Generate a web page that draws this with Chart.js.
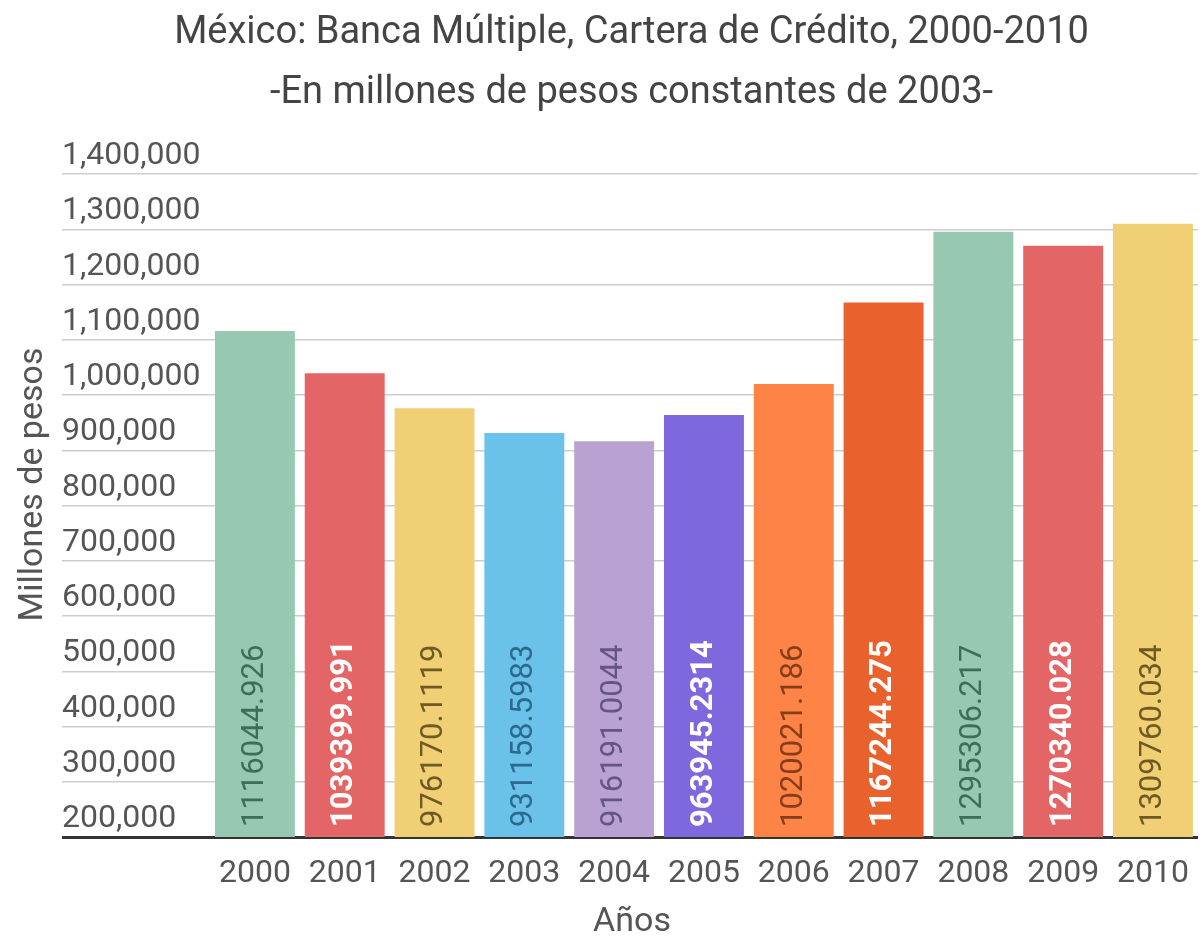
<!DOCTYPE html>
<html lang="es">
<head>
  <meta charset="UTF-8" />
  <title>Banca Múltiple, Cartera de Crédito</title>
  <script src="https://cdn.jsdelivr.net/npm/chart.js"></script>
  <style>
    body {
      margin: 0;
      padding: 0;
      background-color: #ffffff;
    }

    #chartContainer {
      width: 1202px;
      height: 938px;
    }
  </style>
</head>
<body>

  <div id="chartContainer">
    <canvas id="carteraChart"></canvas>
  </div>

  <script>
    // años y saldo de cartera (millones de pesos de 2003)
    const years = ['2000', '2001', '2002', '2003', '2004', '2005', '2006', '2007', '2008', '2009', '2010'];
    const cartera = [1116044.926, 1039399.991, 976170.1119, 931158.5983, 916191.0044, 963945.2314,
                     1020021.186, 1167244.275, 1295306.217, 1270340.028, 1309760.034];

    const barColors = ['#97c8b2', '#e36565', '#f1cf74', '#6ac2ea', '#b9a2d2', '#7d69dd',
                       '#fd8346', '#e9612c', '#97c8b2', '#e36565', '#f1cf74'];
    const labelColors = ['#3d6e58', '#ffffff', '#6e5a22', '#2b6a8e', '#655484', '#ffffff',
                         '#873d1a', '#ffffff', '#3d6e58', '#ffffff', '#6e5a22'];
    const labelBold = [false, true, false, false, false, true, false, true, false, true, false];

    const FONT = 'Roboto';

    // etiqueta vertical dentro de cada barra
    const barValues = {
      id: 'barValues',
      afterDatasetsDraw(chart) {
        const ctx = chart.ctx;
        const meta = chart.getDatasetMeta(0);
        const bottom = chart.scales.y.bottom;
        meta.data.forEach((bar, i) => {
          ctx.save();
          ctx.translate(bar.x, bottom - 10);
          ctx.rotate(-Math.PI / 2);
          ctx.font = (labelBold[i] ? 'bold ' : '') + '31px ' + FONT;
          ctx.fillStyle = labelColors[i];
          ctx.textAlign = 'left';
          ctx.textBaseline = 'middle';
          ctx.fillText(String(cartera[i]), 0, 0);
          ctx.restore();
        });
      }
    };

    // títulos de los ejes, centrados sobre toda la zona de rejilla
    const axisTitles = {
      id: 'axisTitles',
      afterDraw(chart) {
        const ctx = chart.ctx;
        const area = chart.chartArea;
        const gridLeft = chart.scales.y.left;
        ctx.save();
        ctx.font = '34px ' + FONT;
        ctx.fillStyle = '#555555';
        ctx.textAlign = 'center';
        ctx.textBaseline = 'middle';

        ctx.fillText('Años', (gridLeft + chart.width) / 2, 922);

        ctx.translate(33, (area.top + area.bottom) / 2 - 21);
        ctx.rotate(-Math.PI / 2);
        ctx.fillText('Millones de pesos', 0, 0);
        ctx.restore();
      }
    };

    const ctx = document.getElementById('carteraChart').getContext('2d');
    new Chart(ctx, {
      type: 'bar',
      data: {
        labels: years,
        datasets: [{
          label: 'Cartera de crédito',
          data: cartera,
          backgroundColor: barColors,
          borderWidth: 0,
          barPercentage: 0.89,
          categoryPercentage: 1
        }]
      },
      plugins: [barValues, axisTitles],
      options: {
        responsive: true,
        maintainAspectRatio: false,
        animation: false,
        layout: {
          padding: { top: 0, left: 62, right: 1, bottom: 0 }
        },
        plugins: {
          legend: { display: false },
          tooltip: { enabled: false },
          title: {
            display: true,
            text: ['México: Banca Múltiple, Cartera de Crédito, 2000-2010',
                   '-En millones de pesos constantes de 2003-'],
            color: '#444444',
            font: { family: FONT, size: 38, weight: 'normal', lineHeight: 1.579 },
            padding: { top: 3, bottom: 51 }
          }
        },
        scales: {
          x: {
            z: 1,
            grid: { display: false },
            border: { display: true, color: '#333333', width: 3 },
            ticks: {
              color: '#555555',
              font: { family: FONT, size: 32, lineHeight: 1 },
              padding: 13
            },
            afterFit(scale) { scale.height = 101; }
          },
          y: {
            min: 200000,
            max: 1400000,
            border: { display: false },
            grid: {
              drawTicks: true,
              tickLength: 148,
              color: c => c.tick && c.tick.value === 200000 ? '#333333' : '#cdcdcd',
              lineWidth: c => c.tick && c.tick.value === 200000 ? 3 : 1.5
            },
            ticks: {
              stepSize: 100000,
              crossAlign: 'far',
              labelOffset: -18,
              color: '#555555',
              font: { family: FONT, size: 32 },
              callback: v => v.toLocaleString('en-US')
            },
            afterFit(scale) { scale.width = 148; }
          }
        }
      }
    });
  </script>
</body>
</html>
